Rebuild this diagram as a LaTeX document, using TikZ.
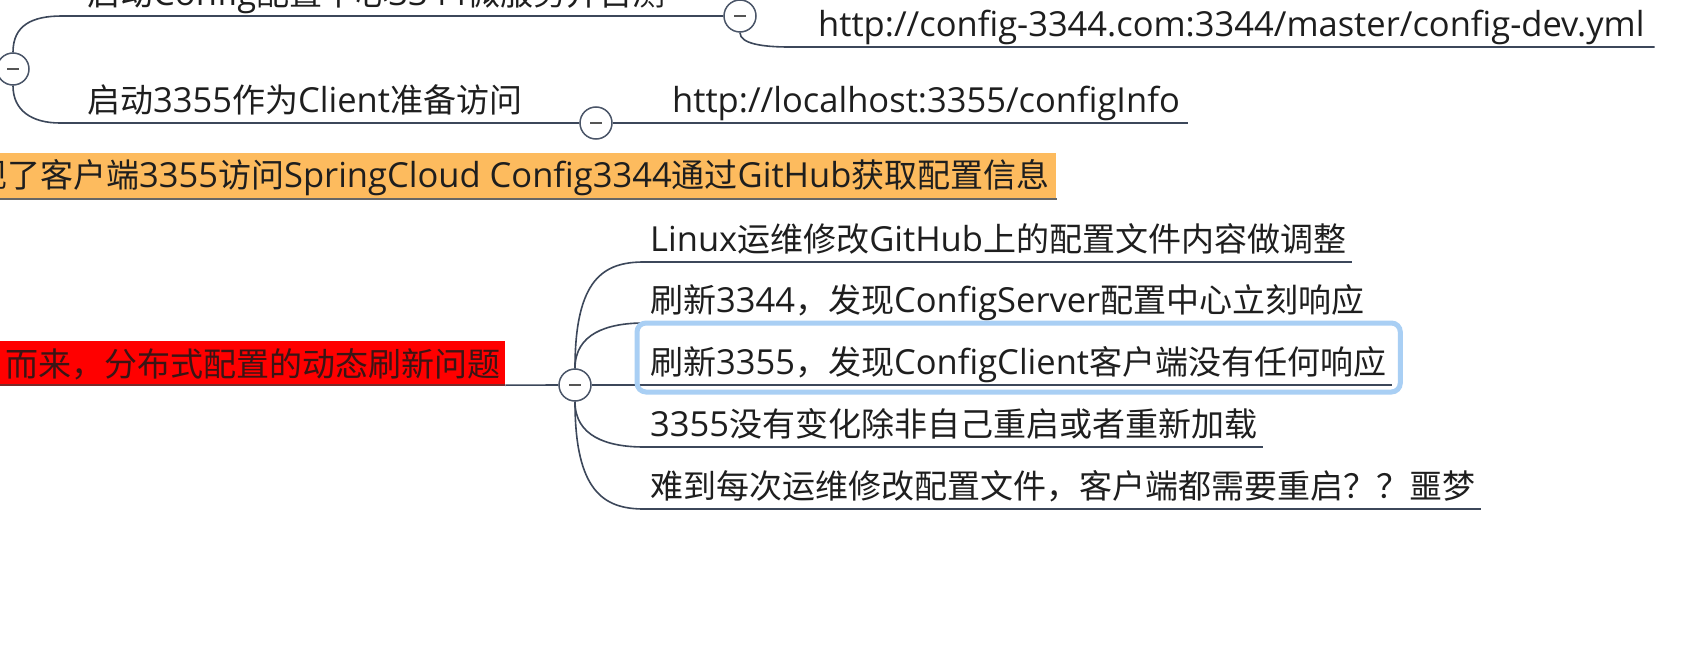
\documentclass[tikz,border=0pt]{standalone}
\usepackage{fontspec}
\setmainfont{Open Sans}
\newfontfamily\zhfont{Noto Sans CJK SC}
\newcommand\zh[1]{{\zhfont\fontsize{33}{40}\selectfont #1}}
\definecolor{txtc}{HTML}{1E1E1E}
\definecolor{linec}{HTML}{3C475A}
\definecolor{circc}{HTML}{4A5568}
\definecolor{minusc}{HTML}{555555}
\definecolor{orangec}{HTML}{FDBB5E}
\definecolor{shadowc}{HTML}{666666}
\definecolor{redc}{HTML}{FF0000}
\definecolor{redshadow}{HTML}{7A2A2A}
\definecolor{redtxt}{HTML}{3A1515}
\definecolor{hlc}{HTML}{A9CFF4}
\begin{document}
\begin{tikzpicture}[x=1pt,y=-1pt,
  txt/.style={font=\fontsize{34.5}{40}\selectfont, text=txtc, inner sep=0pt, anchor=base west},
  topic/.style={txt, inner xsep=6pt, inner ysep=0pt, text depth=10pt, anchor=south west},
  collapse/.style={circle, draw=circc, fill=white, line width=1.5pt, minimum size=32pt, inner sep=0pt,
    path picture={\draw[line width=2.4pt, minusc] ([xshift=-6pt]path picture bounding box.center) -- ([xshift=6pt]path picture bounding box.center);}},
  conn/.style={draw=linec, line width=1.6pt},
  uline/.style={draw=linec, line width=1.8pt},
  orangebox/.style={txt, fill=orangec, inner xsep=7pt, inner ysep=0pt, text height=35pt, text depth=11pt},
  redbox/.style={txt, fill=redc, text=redtxt, inner xsep=5pt, inner ysep=0pt, text height=35pt, text depth=9pt},
  hl/.style={draw=hlc, line width=5pt, rounded corners=9pt}]
\useasboundingbox (0,0) rectangle (1698,650);
\clip (0,0) rectangle (1698,650);
\fill[white] (0,0) rectangle (1698,650);

% collapse circles
\node[collapse] (r1) at (13,69) {};
\node[collapse] (r1a) at (740,16) {};
\node[collapse] (r1b) at (596,123) {};
\node[collapse] (m) at (575,385) {};

% top part
\node[txt] (ta) at (87,6) {\zh{启动}Config\zh{配置中心}3344\zh{微服务并自测}};
\coordinate (taS) at (62,16);
\draw[conn] (r1.north) .. controls +(0,-27) and +(-30,0) .. (taS) -- (r1a.west);
\node[txt] (ua) at (818,37) {http://config-3344.com:3344/master/config-dev.yml};
\coordinate (uaS) at (789,47);
\draw[conn] (r1a.south) .. controls +(0,11) and +(-26,0) .. (uaS) -- ([xshift=10pt]ua.base east |- uaS);

\node[txt] (tb) at (87,113) {\zh{启动}3355\zh{作为}Client\zh{准备访问}};
\coordinate (tbS) at (60,123);
\draw[conn] (r1.south) .. controls +(0,25) and +(-28,0) .. (tbS) -- (r1b.west);
\node[txt] (ub) at (672,113) {http://localhost:3355/configInfo};
\draw[conn] (r1b.east) -- ([xshift=8pt]ub.base east |- r1b.east);

% orange summary
\node[orangebox] (ob) at (-33,188) {\zh{现了客户端}3355\zh{访问}SpringCloud Config3344\zh{通过}GitHub\zh{获取配置信息}};
\draw[line width=2.5pt, shadowc] (ob.south west) -- (ob.south east);

% red topic
\node[redbox] (rb) at (0,376) {\zh{而来，分布式配置的动态刷新问题}};
\draw[line width=2pt, redshadow] (rb.south west) -- (rb.south east);
\draw[conn] (rb.south east) -- (m.west);

% children
\node[topic] (c1) at (644,262) {Linux\zh{运维修改}GitHub\zh{上的配置文件内容做调整}};
\node[topic] (c2) at (644,323) {\zh{刷新}3344\zh{，发现}ConfigServer\zh{配置中心立刻响应}};
\node[topic] (c3) at (644,385) {\zh{刷新}3355\zh{，发现}ConfigClient\zh{客户端没有任何响应}};
\node[topic] (c4) at (644,447) {3355\zh{没有变化除非自己重启或者重新加载}};
\node[topic] (c5) at (644,509) {\zh{难到每次运维修改配置文件，客户端都需要重启？？噩梦}};
\foreach \c in {c1,c2,c3,c4,c5} \draw[uline] (\c.south west) -- (\c.south east);

\draw[conn] (m.north) .. controls +(0,-90) and +(-40,0) .. (c1.south west);
\draw[conn] (m.north) .. controls +(0,-34) and +(-38,0) .. (c2.south west);
\draw[conn] (m.east) -- (c3.south west);
\draw[conn] (m.south) .. controls +(0,34) and +(-38,0) .. (c4.south west);
\draw[conn] (m.south) .. controls +(0,90) and +(-40,0) .. (c5.south west);

\draw[hl] ([xshift=-7pt,yshift=-7pt]c3.south west) rectangle ([xshift=8pt,yshift=62pt]c3.south east);
\end{tikzpicture}
\end{document}
